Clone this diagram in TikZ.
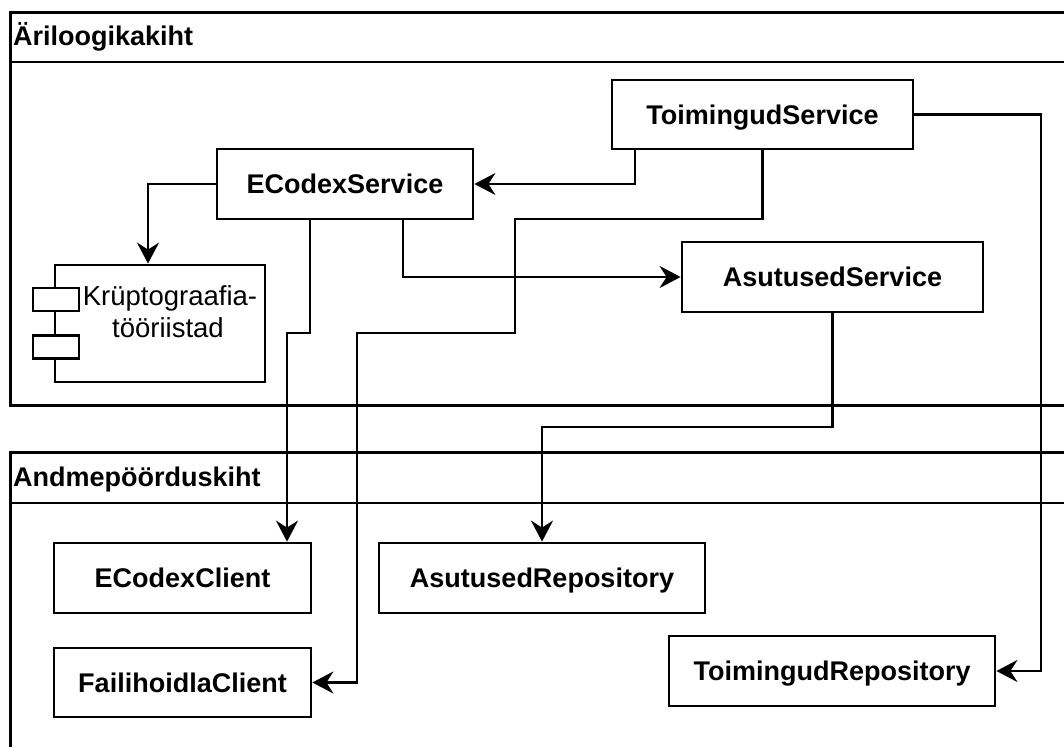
\documentclass[tikz,border=0pt]{standalone}
\usepackage{fontspec}
\setmainfont{Liberation Sans}
\usetikzlibrary{arrows.meta}

\tikzset{
  lw/.style={line width=2.8pt},
  svc/.style={draw, lw, fill=white, rectangle, inner sep=0pt,
    text height=19.4pt, text depth=0pt,
    font=\fontsize{27}{32}\selectfont\bfseries},
  layerbox/.style={draw, lw, rectangle, inner sep=0pt, anchor=north west},
  layertitle/.style={anchor=base west, inner sep=0pt,
    font=\fontsize{27}{32}\selectfont\bfseries},
  port/.style={draw, lw, fill=white, rectangle, inner sep=0pt,
    minimum width=46pt, minimum height=23pt},
  comptext/.style={anchor=base, inner sep=0pt, font=\fontsize{27.5}{32}\selectfont},
  arr/.style={lw, -{Stealth[length=21pt, width=22pt, inset=7pt]}},
}

\begin{document}
\begin{tikzpicture}[x=1pt, y=-1pt]
\useasboundingbox (0,0) rectangle (1064,746);
\clip (0,0) rectangle (1064,746);

% ---- layers ----
\node[layerbox, minimum width=1080pt, minimum height=393pt] (l1) at (9,11) {};
\draw[lw] (9,62) -- (1090,62);
\node[layertitle] (l1t) at (13,46) {Äriloogikakiht};

\node[layerbox, minimum width=1080pt, minimum height=320pt] (l2) at (9,451) {};
\draw[lw] (9,503) -- (1090,503);
\node[layertitle] (l2t) at (13,486) {Andmepöörduskiht};

% ---- business layer ----
\node[svc, minimum width=301pt, minimum height=69pt] (ts) at (762.5,114.5) {ToimingudService};
\node[svc, minimum width=256pt, minimum height=70pt] (es) at (345,184) {ECodexService};
\node[svc, minimum width=301pt, minimum height=70pt] (as) at (832.5,277) {AsutusedService};

% component with two ports
\node[draw, lw, fill=white, rectangle, inner sep=0pt,
      minimum width=210pt, minimum height=117pt] (kr) at (160,323.5) {};
\node[port] (kp1) at (56,299.5) {};
\node[port] (kp2) at (56,347) {};
\node[comptext] (krt1) at (170,305) {Krüptograafia-};
\node[comptext] (krt2) at (168,337) {tööriistad};

% ---- data access layer ----
\node[svc, minimum width=257pt, minimum height=70pt] (ec) at (182.5,578) {ECodexClient};
\node[svc, minimum width=326pt, minimum height=70pt] (ar) at (542,578) {AsutusedRepository};
\node[svc, minimum width=257pt, minimum height=69pt] (fc) at (182.5,682.5) {FailihoidlaClient};
\node[svc, minimum width=326pt, minimum height=70pt] (tr) at (832,671) {ToimingudRepository};

% ---- bend points ----
\coordinate (b1) at (287,333);
\coordinate (b2) at (515,219);
\coordinate (b3) at (357,333);
\coordinate (b4) at (542,427);
\coordinate (b5) at (1041,114.5);

% ---- connectors ----
\draw[arr] ([xshift=-127.5pt]ts.south) |- (es.east);
\draw[arr] (ts.south) |- (b2) |- (b3) |- (fc.east);
\draw[arr] (es.west) -| ([xshift=-12pt]kr.north);
\draw[arr] ([xshift=-35pt]es.south) |- (b1) -- (b1 |- ec.north);
\draw[arr] ([xshift=58pt]es.south) |- (as.west);
\draw[arr] (as.south) |- (b4) -- (ar.north);
\draw[arr] (ts.east) -- (b5) |- (tr.east);
\end{tikzpicture}
\end{document}
